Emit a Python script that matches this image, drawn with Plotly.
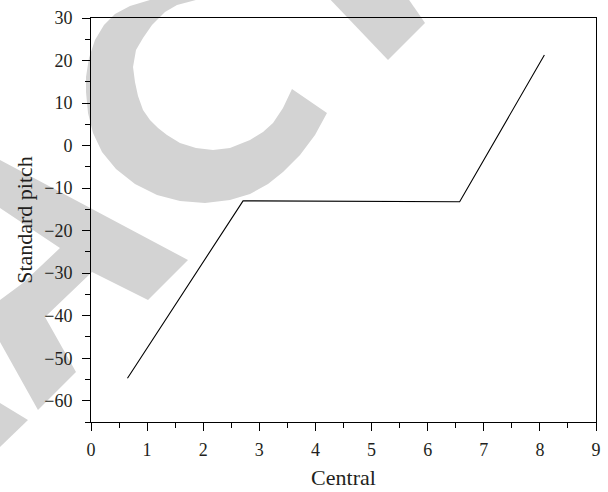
import plotly.graph_objects as go

# ---- data ----
central = [0.65, 2.71, 6.57, 8.08]
standard_pitch = [-54.7, -13.0, -13.2, 21.3]

x_ticks = [0, 1, 2, 3, 4, 5, 6, 7, 8, 9]
y_ticks = [-60, -50, -40, -30, -20, -10, 0, 10, 20, 30]

W, H = 608, 492
ML, MR, MT, MB = 91, 12, 18, 70
PW, PH = W - ML - MR, H - MT - MB


def pp(px, py):
    """pixel position -> paper coordinates (for the background watermark only)"""
    return (px - ML) / PW, (H - MB - py) / PH


def path(points):
    pts = [pp(a, b) for a, b in points]
    s = "M %.4f %.4f " % pts[0]
    s += " ".join("L %.4f %.4f" % p for p in pts[1:])
    return s + " Z"


# watermark letters (decoration, light grey, behind the plot)
wm_c = [(150, 0), (148, -6), (200, -6), (196, 0), (177, 5), (165, 12), (152, 25), (143, 38), (136, 50),
        (133, 67), (135, 82), (138, 96), (143, 110), (150, 120), (158, 128), (167, 135), (180, 143),
        (196, 148), (213, 150), (230, 148), (250, 140), (263, 132), (273, 123), (283, 108),
        (292, 89), (327, 113), (315, 135), (300, 155), (283, 172), (268, 184), (250, 194),
        (230, 200), (205, 203), (180, 201), (157, 195), (135, 184), (116, 169), (102, 152),
        (93, 133), (88, 113), (86, 92), (86, 77), (89, 58), (95, 40), (104, 25), (115, 14),
        (130, 6)]
wm_t = [(325, -6), (405, -6), (425, 23), (388, 60)]
wm_a = [(-5, 158), (0, 160), (188, 260), (148, 300), (92, 272), (45, 317), (76, 372), (38, 410),
        (0, 342), (-5, 342), (-5, 300), (0, 300), (23, 283), (60, 248), (0, 208), (-5, 208)]
wm_small = [(-5, 403), (0, 403), (28, 420), (0, 447), (-5, 447)]

shapes = []
for poly in (wm_c, wm_t, wm_a, wm_small):
    shapes.append(dict(type="path", xref="paper", yref="paper", path=path(poly),
                       fillcolor="#d3d3d3", line=dict(width=0), layer="below"))

fig = go.Figure()
fig.add_trace(go.Scatter(x=central, y=standard_pitch, mode="lines",
                         line=dict(color="black", width=1.1), showlegend=False))

font = dict(family="Liberation Serif, DejaVu Serif, serif", size=18, color="#231f20")

fig.update_layout(
    width=W, height=H,
    margin=dict(l=ML, r=MR, t=MT, b=MB, autoexpand=False),
    paper_bgcolor="white", plot_bgcolor="rgba(0,0,0,0)",
    font=font,
    shapes=shapes,
    xaxis=dict(range=[0, 9], tickvals=x_ticks, ticks="outside", ticklen=8, tickwidth=1,
               tickcolor="black", showline=True, linecolor="black", linewidth=1, mirror=True,
               showgrid=False, zeroline=False, automargin=False, ticklabelstandoff=3,
               minor=dict(dtick=0.5, ticks="outside", ticklen=5, tickcolor="black", tickwidth=1),
               title=dict(text="Central", standoff=11)),
    yaxis=dict(range=[-65, 30], tickvals=y_ticks, ticks="outside", ticklen=8, tickwidth=1,
               tickcolor="black", showline=True, linecolor="black", linewidth=1, mirror=True,
               showgrid=False, zeroline=False, automargin=False, ticklabelstandoff=6,
               minor=dict(dtick=5, tick0=0, ticks="outside", ticklen=5, tickcolor="black", tickwidth=1),
               title=dict(text="Standard pitch", standoff=5)),
)

fig.write_html("out.html", config={"displayModeBar": False},
               post_script="document.body.style.margin='0';document.body.style.overflow='hidden';")
